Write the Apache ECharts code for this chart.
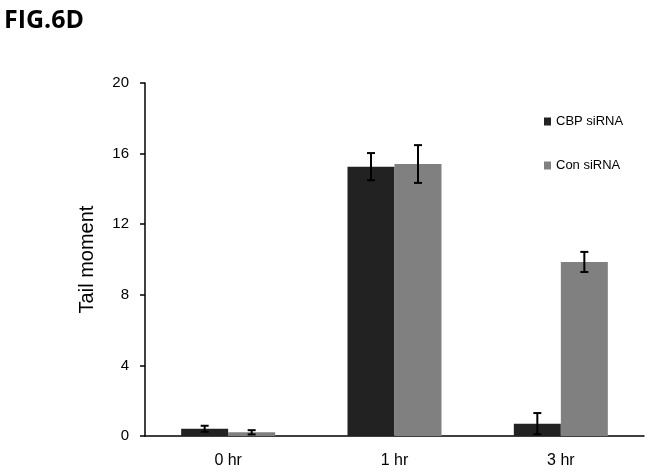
<!DOCTYPE html>
<html>
<head>
<meta charset="utf-8">
<script src="https://cdn.jsdelivr.net/npm/echarts@6/dist/echarts.min.js"></script>
<style>
  html, body { margin: 0; padding: 0; background: #fff; }
  #chart { width: 649px; height: 472px; }
</style>
</head>
<body>
<div id="chart"></div>
<script>
const categories = ["0 hr", "1 hr", "3 hr"];
const cbpValues = [0.41, 15.26, 0.7];
const conValues = [0.21, 15.41, 9.86];
const cbpErrors = [0.17, 0.77, 0.6];
const conErrors = [0.12, 1.07, 0.57];
const yTicks = [0, 4, 8, 12, 16, 20];

const chart = echarts.init(document.getElementById("chart"));
const barWidth = 47;

function errorData(values, errors) {
  return values.map((v, i) => [i, v - errors[i], v + errors[i]]);
}

function errorSeries(name, values, errors, side) {
  return {
    name: name,
    type: "custom",
    z: 10,
    data: errorData(values, errors),
    renderItem: (params, api) => {
      const idx = api.value(0);
      const lo = api.coord([idx, api.value(1)]);
      const hi = api.coord([idx, api.value(2)]);
      const x = lo[0] + side * barWidth / 2;
      const cap = 4;
      const style = { stroke: "#000", lineWidth: 2 };
      return {
        type: "group",
        children: [
          { type: "line", shape: { x1: x, y1: lo[1], x2: x, y2: hi[1] }, style: style },
          { type: "line", shape: { x1: x - cap, y1: lo[1], x2: x + cap, y2: lo[1] }, style: style },
          { type: "line", shape: { x1: x - cap, y1: hi[1], x2: x + cap, y2: hi[1] }, style: style },
        ],
      };
    },
  };
}

chart.setOption({
  animation: false,
  title: {
    text: "FIG.6D",
    left: -1,
    top: 3,
    textStyle: { fontFamily: "Open Sans", fontWeight: "bold", fontSize: 25, color: "#000" },
  },
  legend: {
    data: ["CBP siRNA", "Con siRNA"],
    orient: "vertical",
    left: 539,
    top: 110,
    itemGap: 31,
    itemWidth: 7,
    itemHeight: 8,
    icon: "rect",
    textStyle: { fontFamily: "Liberation Sans", fontSize: 13, color: "#000" },
  },
  grid: { left: 145, right: 5, top: 83, bottom: 36 },
  xAxis: {
    type: "category",
    data: categories,
    axisLine: { lineStyle: { color: "#000", width: 1.5 } },
    axisTick: { length: 5, lineStyle: { color: "#000", width: 1.5 } },
    axisLabel: { fontFamily: "Liberation Sans", fontSize: 16, color: "#000", margin: 17 },
  },
  yAxis: {
    type: "value",
    min: 0,
    max: 20,
    interval: 4,
    name: "Tail moment",
    nameLocation: "middle",
    nameGap: 48,
    nameTextStyle: { fontFamily: "Liberation Sans", fontSize: 20, color: "#000" },
    axisLine: { show: true, lineStyle: { color: "#000", width: 1.5 } },
    axisTick: { show: true, length: 5, lineStyle: { color: "#000", width: 1.5 } },
    axisLabel: {
      fontFamily: "Liberation Sans",
      fontSize: 15,
      color: "#000",
      margin: 16,
      formatter: (v) => (yTicks.includes(v) ? String(v) : ""),
    },
    splitLine: { show: false },
  },
  series: [
    {
      name: "CBP siRNA",
      type: "bar",
      data: cbpValues,
      barWidth: barWidth,
      barGap: "0%",
      itemStyle: { color: "#222222" },
    },
    {
      name: "Con siRNA",
      type: "bar",
      data: conValues,
      barWidth: barWidth,
      itemStyle: { color: "#808080" },
    },
    errorSeries("CBP err", cbpValues, cbpErrors, -1),
    errorSeries("Con err", conValues, conErrors, 1),
  ],
});
</script>
</body>
</html>
